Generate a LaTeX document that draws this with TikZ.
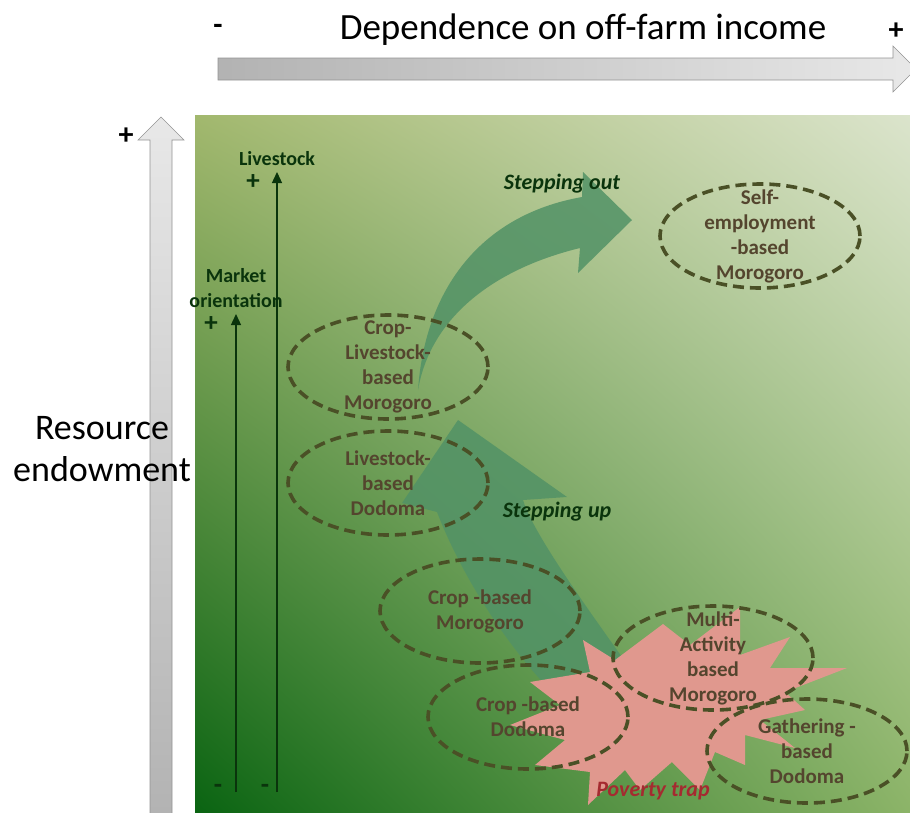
\documentclass[tikz,border=0pt]{standalone}
\usepackage{fontspec}
\setmainfont{Carlito}
\usetikzlibrary{shapes.geometric,arrows.meta,shadings}

\definecolor{zoneline}{RGB}{74,80,38}
\definecolor{zonetext}{RGB}{84,69,46}
\definecolor{axisgreen}{RGB}{10,52,12}
\definecolor{flowgreen}{RGB}{82,146,102}
\definecolor{trappink}{RGB}{224,152,142}
\definecolor{trapred}{RGB}{165,42,48}
\definecolor{bgUL}{RGB}{162,184,110}
\definecolor{bgUR}{RGB}{219,228,204}
\definecolor{bgLL}{RGB}{10,100,18}
\definecolor{bgLR}{RGB}{140,180,104}

\begin{document}
\begin{tikzpicture}[x=1pt,y=-1pt,
  zone/.style={ellipse, draw=zoneline, line width=3.6pt,
    dash pattern=on 11pt off 6pt, minimum width=200pt,
    minimum height=104pt, inner sep=0pt},
  zonelabel/.style={align=center, text=zonetext, inner sep=0pt,
    font=\fontsize{21}{25}\selectfont\bfseries},
  axislabel/.style={align=center, text=axisgreen, inner sep=0pt,
    font=\fontsize{20}{25}\selectfont\bfseries},
  axissign/.style={text=axisgreen, inner sep=0pt,
    font=\fontsize{27}{27}\selectfont\bfseries},
  axisarrow/.style={draw=axisgreen, line width=1.3pt,
    -{Triangle[length=11pt,width=10pt]}},
  flowlabel/.style={text=axisgreen, inner sep=0pt,
    font=\fontsize{22}{26}\selectfont\bfseries\itshape},
  flow/.style={fill=flowgreen, fill opacity=0.85},
  bigtext/.style={inner sep=0pt, font=\fontsize{37}{43}\selectfont},
  signmark/.style={inner sep=0pt, font=\fontsize{30}{30}\selectfont\bfseries},
  greyarrow/.style={draw=gray!85, line width=0.6pt}
]
\useasboundingbox (0,0) rectangle (910,812);

% background panel
\shade[upper left=bgUL, upper right=bgUR, lower left=bgLL, lower right=bgLR]
  (195,115) rectangle (910,812);

% horizontal axis: dependence on off-farm income
\draw[greyarrow, left color=black!30, right color=black!9]
  (218,58) -- (893,58) -- (893,46) -- (916,69) -- (893,92) -- (893,80)
  -- (218,80) -- cycle;
\node[bigtext] (xtitle) at (583,30) {Dependence on off-farm income};
\node[signmark] (xminus) at (218,29) {-};
\node[signmark] (xplus) at (896,31) {+};

% vertical axis: resource endowment
\draw[greyarrow, top color=black!9, bottom color=black!30]
  (150,820) -- (150,140) -- (138,140) -- (161,117) -- (184,140)
  -- (172,140) -- (172,820) -- cycle;
\node[bigtext, align=center, font=\fontsize{36}{42}\selectfont] (ytitle) at (102,449)
  {Resource\\endowment};
\node[signmark] (yplus) at (126,136) {+};

% inner axes: market orientation and livestock
\coordinate (mk0) at (236,792);
\coordinate (mk1) at (236,314);
\coordinate (ls0) at (277,792);
\coordinate (ls1) at (277,172);
\draw[axisarrow] (mk0) -- (mk1);
\draw[axisarrow] (ls0) -- (ls1);
\node[axislabel] (lslabel) at (277,159) {Livestock};
\node[axislabel] (mklabel) at (236,288) {Market\\orientation};
\node[axissign] (lsplus) at (253,182) {+};
\node[axissign] (mkplus) at (211,324) {+};
\node[axissign] (mkminus) at (218,789) {-};
\node[axissign] (lsminus) at (265,789) {-};

% stepping up
\fill[flow] (458,420) -- (567,497) -- (523,500)
  .. controls (535,540) and (611,640) .. (645,690)
  -- (555,695)
  .. controls (505,645) and (460,572) .. (437,512)
  -- (402,503) -- cycle;

% stepping out
\fill[flow] (418,390) .. controls (425,290) and (480,215) .. (582,197)
  -- (583,172) -- (632,220) -- (578,273) -- (580,248)
  .. controls (490,270) and (430,320) .. (418,390) -- cycle;

\node[flowlabel] (outlabel) at (562,184) {Stepping out};
\node[flowlabel] (uplabel) at (557,512) {Stepping up};

% poverty trap
\fill[trappink]
  (583,640) -- (615,660) -- (663,624) -- (690,645) -- (740,607)
  -- (740,655) -- (790,637) -- (770,668) -- (847,668) -- (785,692)
  -- (805,710) -- (760,720) -- (795,748) -- (745,735) -- (745,765)
  -- (715,752) -- (700,790) -- (672,762) -- (640,790) -- (625,770)
  -- (588,805) -- (590,772) -- (535,765) -- (565,740) -- (510,725)
  -- (560,705) -- (530,682) -- (590,672) -- cycle;
\node[inner sep=0pt, text=trapred, font=\fontsize{22}{26}\selectfont\bfseries\itshape]
  (traplabel) at (653,791) {Poverty trap};

% livelihood strategies
\node[zone] (clm) at (388,367) {};
\node[zonelabel] (clmtext) at (clm.center) {Crop-\\Livestock-\\based\\Morogoro};
\node[zone] (sem) at (760,236) {};
\node[zonelabel] (semtext) at (sem.center) {Self-\\employment\\-based\\Morogoro};
\node[zone] (lbd) at (388,483) {};
\node[zonelabel] (lbdtext) at (lbd.center) {Livestock-\\based\\Dodoma};
\node[zone] (cbm) at (480,611) {};
\node[zonelabel] (cbmtext) at (cbm.center) {Crop -based\\Morogoro};
\node[zone] (cbd) at (528,717) {};
\node[zonelabel] (cbdtext) at (cbd.center) {Crop -based\\Dodoma};
\node[zone] (mam) at (713,658) {};
\node[zonelabel] (mamtext) at (mam.center) {Multi-\\Activity\\based\\Morogoro};
\node[zone] (gbd) at (807,751) {};
\node[zonelabel] (gbdtext) at (gbd.center) {Gathering -\\based\\Dodoma};
\end{tikzpicture}
\end{document}
